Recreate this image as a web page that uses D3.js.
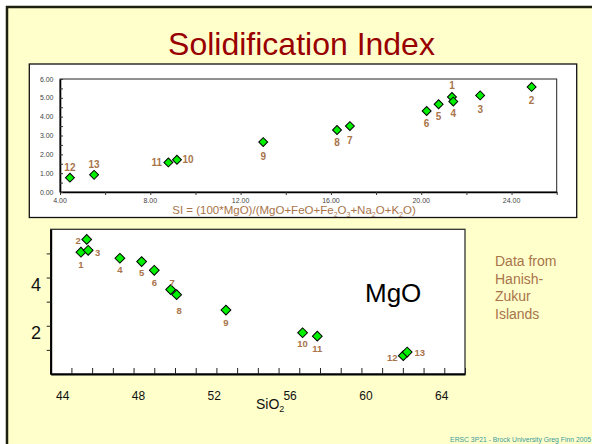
<!DOCTYPE html>
<html><head><meta charset="utf-8">
<script src="https://cdn.jsdelivr.net/npm/d3@7"></script>
<style>body{margin:0;background:#fff}svg{display:block;font-family:"Liberation Sans",Arial,sans-serif}</style>
</head><body><svg id="c" width="592" height="444"></svg>
<script>
// ---- data ----
const sampleIds = ["1","2","3","4","5","6","7","8","9","10","11","12","13"];
const siValues  = [21.36,24.89,22.61,21.42,20.77,20.24,16.84,16.27,13.00,9.18,8.80,4.44,5.51];
const mgoValues = [5.05,5.58,5.13,4.80,4.66,4.30,3.50,3.29,2.65,1.71,1.57,0.76,0.91];
const sio2Values= [45.46,45.74,45.81,47.34,48.39,49.00,49.79,50.08,52.46,56.16,56.87,61.02,61.21];
const topXTicks = [4,8,12,16,20,24];
const topYTicks = [0,1,2,3,4,5,6];
const botXLabels = [44,48,52,56,60,64];
const botYLabels = [2,4];
const infoLines = ["Data from","Hanish-","Zukur","Islands"];

// ---- layout (label placement offsets, not data) ----
const topLabelOff = [[0,-11],[0,14],[0,14],[0,12],[0,12.5],[0,12.5],[0,14],[0,12.5],[0,14.5],[11,0],[-11.5,0],[0,-10],[0,-10]];
const botLabelOff = [[0,12],[-8.5,1],[9.5,2.5],[0,11.5],[0,11.5],[0,12.5],[1.5,-7],[2.5,16.5],[0,12.5],[0,11],[0,12.5],[-11,2],[12.5,1]];

const svg = d3.select("#c");
const brown = "#a8744a";
const green = "#00f000";

// slide background & frame
svg.append("rect").attr("x",7).attr("y",7).attr("width",600).attr("height",450)
  .attr("fill","#ffffcc").attr("stroke","#1f1f10").attr("stroke-width",2.5);

// title
svg.append("text").attr("x",301.5).attr("y",55).attr("text-anchor","middle")
  .attr("font-size",32).attr("fill","#990000").text("Solidification Index");

// ===== top chart =====
svg.append("rect").attr("x",29.3).attr("y",64).attr("width",547.4).attr("height",153.5)
  .attr("fill","#fff").attr("stroke","#111").attr("stroke-width",1.3);

const tx = d3.scaleLinear().domain([4,26]).range([60,556.7]);
const ty = d3.scaleLinear().domain([0,6]).range([192,79]);
const gT = svg.append("g");
gT.append("rect").attr("x",tx(4)).attr("y",ty(6)).attr("width",tx(26)-tx(4)).attr("height",ty(0)-ty(6))
  .attr("fill","none").attr("stroke","#222").attr("stroke-width",1);
const txAxis = d3.axisBottom(tx).tickValues(d3.range(4,26.01,2)).tickSize(3).tickSizeOuter(0).tickFormat("");
gT.append("g").attr("transform",`translate(0,${ty(0)})`).call(txAxis)
  .call(g=>{g.select(".domain").attr("stroke","#000").attr("stroke-width",1.6);g.selectAll("line").attr("stroke","#333");});
const tyAxis = d3.axisLeft(ty).tickValues(d3.range(0,6.01,0.5)).tickSize(-3).tickSizeOuter(0).tickFormat("");
gT.append("g").attr("transform",`translate(${tx(4)},0)`).call(tyAxis)
  .call(g=>{g.select(".domain").attr("stroke","#000").attr("stroke-width",1.6);g.selectAll("line").attr("stroke","#333");});
gT.selectAll(".tyl").data(topYTicks).join("text").attr("class","tyl")
  .attr("x",53.5).attr("y",d=>ty(d)+2.5).attr("text-anchor","end").attr("font-size",7).attr("fill","#444")
  .text(d=>d.toFixed(2));
gT.selectAll(".txl").data(topXTicks).join("text").attr("class","txl")
  .attr("x",d=>tx(d)).attr("y",203).attr("text-anchor","middle").attr("font-size",7).attr("fill","#444")
  .text(d=>d.toFixed(2));
const at = gT.append("text").attr("x",294).attr("y",213.5).attr("text-anchor","middle")
  .attr("font-size",11.5).attr("fill",brown);
[["SI = (100*MgO)/(MgO+FeO+Fe",0],["2",1],["O",2],["3",1],["+Na",2],["2",1],["O+K",2],["2",1],["O)",2]]
 .forEach(([t,k])=>{
   const s = at.append("tspan").text(t);
   if(k===1) s.attr("font-size",7).attr("dy",3);
   if(k===2) s.attr("dy",-3);
 });

const diamond = d3.symbol().type(d3.symbolSquare);
const topPts = sampleIds.map((id,i)=>({id,x:siValues[i],y:mgoValues[i],o:topLabelOff[i]}));
gT.selectAll(".pt").data(topPts).join("path").attr("class","pt")
  .attr("d",diamond.size(40)).attr("transform",d=>`translate(${tx(d.x)},${ty(d.y)}) rotate(45)`)
  .attr("fill",green).attr("stroke","#000").attr("stroke-width",1);
gT.selectAll(".lb").data(topPts).join("text").attr("class","lb")
  .attr("x",d=>tx(d.x)+d.o[0]).attr("y",d=>ty(d.y)+d.o[1]+3.5).attr("text-anchor","middle")
  .attr("font-size",10).attr("font-weight","bold").attr("fill",brown).text(d=>d.id);

// ===== bottom chart =====
const bx = d3.scaleLinear().domain([44,64]).range([50.7,465]);
const by = d3.scaleLinear().domain([0,6]).range([374,229.3]);
const bxLab = d3.scaleLinear().domain([44,64]).range([62.7,441.7]); // hand-placed label text boxes
const gB = svg.append("g");
gB.append("rect").attr("x",bx(44)).attr("y",by(6)).attr("width",bx(64)-bx(44)).attr("height",by(0)-by(6))
  .attr("fill","#fff").attr("stroke","#333").attr("stroke-width",1.3);
gB.append("g").attr("transform",`translate(0,${by(0)})`)
  .call(d3.axisBottom(bx).tickValues(d3.range(44,64.01,1)).tickSize(-6).tickSizeOuter(0).tickFormat(""))
  .call(g=>{g.select(".domain").attr("stroke","#000").attr("stroke-width",2);g.selectAll("line").attr("stroke","#222");});
gB.append("g").attr("transform",`translate(${bx(44)},0)`)
  .call(d3.axisLeft(by).tickValues(d3.range(1,5.01,1)).tickSize(4).tickSizeOuter(0).tickFormat(""))
  .call(g=>{g.select(".domain").attr("stroke","#000").attr("stroke-width",2);g.selectAll("line").attr("stroke","#222");});
gB.selectAll(".bxl").data(botXLabels).join("text").attr("class","bxl")
  .attr("x",d=>bxLab(d)).attr("y",399.5).attr("text-anchor","middle").attr("font-size",12).attr("fill","#111")
  .text(d=>d);
gB.selectAll(".byl").data(botYLabels).join("text").attr("class","byl")
  .attr("x",36).attr("y",d=>by(d)+13.5).attr("text-anchor","middle").attr("font-size",18).attr("fill","#111")
  .text(d=>d);
const sio = gB.append("text").attr("x",256).attr("y",408.5).attr("font-size",14).attr("fill","#111");
sio.append("tspan").text("SiO");
sio.append("tspan").attr("font-size",9).attr("dy",3).text("2");
gB.append("text").attr("x",365).attr("y",301.5).attr("font-size",26).attr("fill","#000").text("MgO");

const botPts = sampleIds.map((id,i)=>({id,x:sio2Values[i],y:mgoValues[i],o:botLabelOff[i]}));
gB.selectAll(".pt").data(botPts).join("path").attr("class","pt")
  .attr("d",diamond.size(48)).attr("transform",d=>`translate(${bx(d.x)},${by(d.y)}) rotate(45)`)
  .attr("fill",green).attr("stroke","#000").attr("stroke-width",1);
gB.selectAll(".lb").data(botPts).join("text").attr("class","lb")
  .attr("x",d=>bx(d.x)+d.o[0]).attr("y",d=>by(d.y)+d.o[1]+3.3).attr("text-anchor","middle")
  .attr("font-size",9.5).attr("font-weight","bold").attr("fill",brown).text(d=>d.id);

svg.selectAll(".info").data(infoLines).join("text").attr("class","info")
  .attr("x",495).attr("y",(d,i)=>266+i*17.7).attr("font-size",14).attr("fill",brown).text(d=>d);

svg.append("text").attr("x",591).attr("y",442).attr("text-anchor","end").attr("font-size",6.8)
  .attr("fill","#3a9a9a").text("ERSC 3P21 - Brock University Greg Finn 2005");
</script></body></html>
